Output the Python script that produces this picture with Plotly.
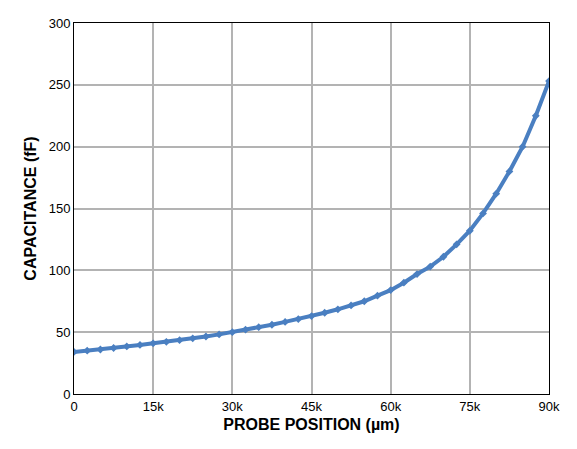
import plotly.graph_objects as go

# probe position (um) and capacitance (fF)
position = [0, 2500, 5000, 7500, 10000, 12500, 15000, 17500, 20000, 22500,
            25000, 27500, 30000, 32500, 35000, 37500, 40000, 42500, 45000,
            47500, 50000, 52500, 55000, 57500, 60000, 62500, 65000, 67500,
            70000, 72500, 75000, 77500, 80000, 82500, 85000, 87500, 90000]
capacitance = [34, 35, 36, 37.2, 38.5, 39.7, 41, 42.2, 43.5, 45,
               46.5, 48.2, 50, 52, 54, 56, 58.3, 60.6, 63,
               65.7, 68.5, 71.6, 75, 79.5, 84, 90, 97, 103,
               111, 121, 132, 146, 162, 180, 200, 225, 253]

x_ticks = [0, 15000, 30000, 45000, 60000, 75000, 90000]
x_labels = ['0', '15k', '30k', '45k', '60k', '75k', '90k']

fig = go.Figure()
fig.add_trace(go.Scatter(
    x=position, y=capacitance, mode='lines+markers',
    line=dict(color='#4a7fc1', width=4),
    marker=dict(symbol='diamond', size=6, color='#4a7fc1')
))

fig.update_layout(
    width=577, height=449,
    margin=dict(l=66, r=36, t=8, b=63),
    plot_bgcolor='white', paper_bgcolor='white',
    showlegend=False,
    font=dict(family='Liberation Sans, Arial', size=13, color='black'),
    xaxis=dict(range=[0, 90000], tickvals=x_ticks, ticktext=x_labels,
               showgrid=True, gridcolor='#b3b3b3', gridwidth=2,
               showline=True, linecolor='black', mirror=True, zeroline=False,
               title=dict(text='<b>PROBE POSITION (µm)</b>', standoff=6)),
    yaxis=dict(range=[0, 300], dtick=50,
               showgrid=True, gridcolor='#b3b3b3', gridwidth=2,
               showline=True, linecolor='black', mirror=True, zeroline=False,
               title=dict(text='<b>CAPACITANCE (fF)</b>', standoff=8)),
)

fig.write_html("out.html")
